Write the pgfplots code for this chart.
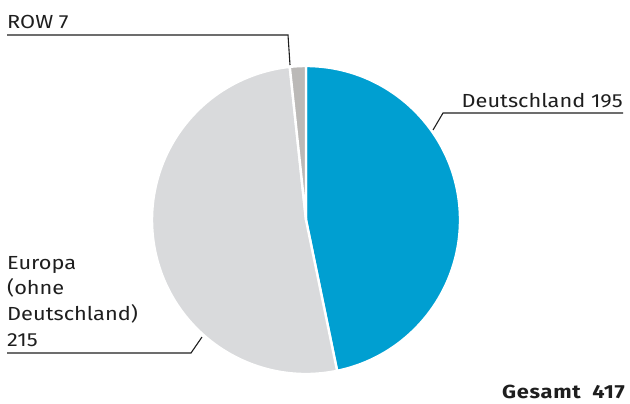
\documentclass[border=0pt]{standalone}
\usepackage{pgfplots}
\usepackage{pgfplotstable}
\usepackage{fontspec}
\setmainfont[FakeStretch=1.15]{Fira Sans}
\pgfplotsset{compat=1.18}

\definecolor{deblue}{HTML}{009FD1}
\definecolor{eugray}{HTML}{D9DADC}
\definecolor{rowgray}{HTML}{BBB9B7}
\definecolor{txt}{HTML}{1E1E1E}

% Umsatz nach Regionen
\pgfplotstableread{
label value
Deutschland 195
Europa 215
ROW 7
}\piedata

\begin{document}
\begin{tikzpicture}
\begin{axis}[
    x=1bp, y=1bp,
    xmin=0, xmax=630,
    ymin=0, ymax=403,
    axis lines=none,
    clip=false,
]
\path (axis cs:0,0) rectangle (axis cs:630,403);
\pgfplotsextra{
    \def\total{417}
    \xdef\start{90}
    \foreach \i/\col in {0/deblue,1/eugray,2/rowgray}{
        \pgfplotstablegetelem{\i}{value}\of\piedata
        \pgfmathsetmacro\sweep{\pgfplotsretval/\total*360}
        \pgfmathsetmacro\stop{\start-\sweep}
        \fill[\col, draw=white, line width=2.4bp]
            (axis cs:306,183) -- ++(\start:154bp)
            arc[start angle=\start, end angle=\stop, radius=154bp] -- cycle;
        \xdef\start{\stop}
    }
}
% Fuehrungslinien
\draw[txt, line width=1.1bp] (axis cs:7,368) -- (axis cs:288,368) -- (axis cs:290,338);
\draw[txt, line width=1.1bp] (axis cs:623,290) -- (axis cs:443,290) -- (axis cs:433,273);
\draw[txt, line width=1.1bp] (axis cs:7,50) -- (axis cs:191,50) -- (axis cs:202,66);
% Beschriftungen
\begin{scope}[every node/.style={inner sep=0pt, text=txt, font=\fontsize{19}{23}\selectfont}]
\node[anchor=base west] at (axis cs:7,375) {ROW 7};
\node[anchor=base east] at (axis cs:623,296) {Deutschland 195};
\node[anchor=base west] at (axis cs:7,134) {Europa};
\node[anchor=base west] at (axis cs:7,108.3) {(ohne};
\node[anchor=base west] at (axis cs:7,82.6) {Deutschland)};
\node[anchor=base west] at (axis cs:7,57) {215};
\node[anchor=base east, font=\fontsize{19}{23}\selectfont\bfseries] at (axis cs:625,5) {\addfontfeatures{LetterSpace=4}Gesamt\hspace{0.6em}417};
\end{scope}
\end{axis}
\end{tikzpicture}
\end{document}
